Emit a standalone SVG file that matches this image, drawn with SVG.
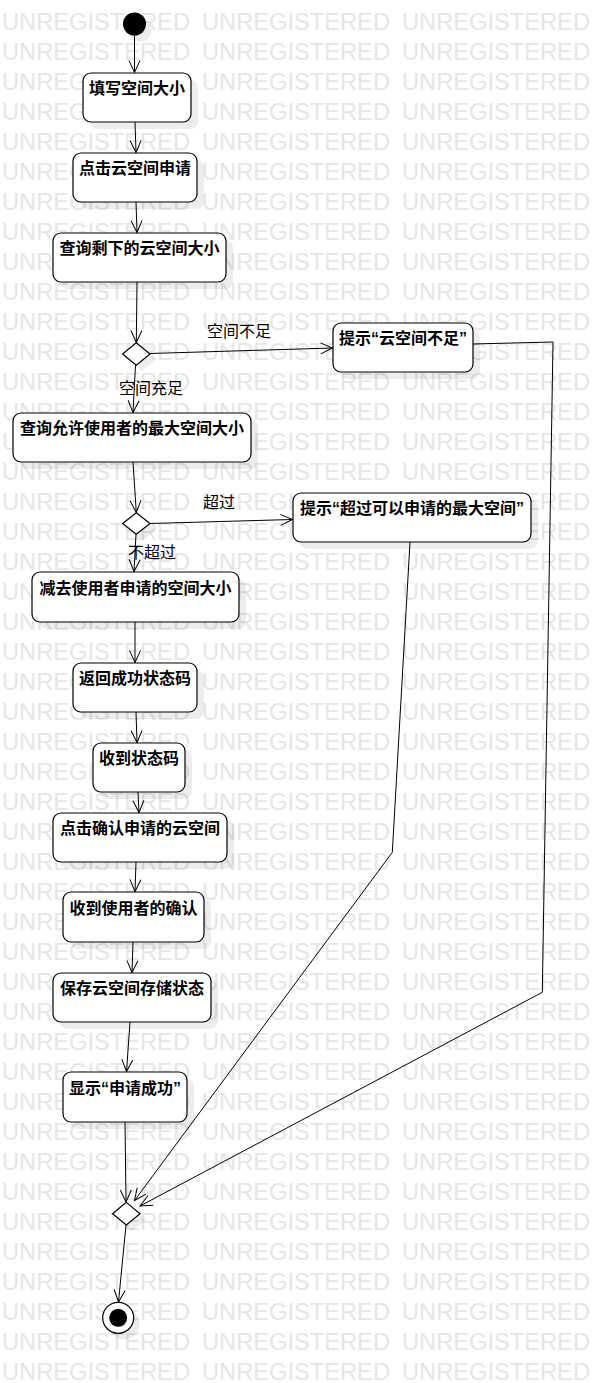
<svg xmlns="http://www.w3.org/2000/svg" xmlns:xlink="http://www.w3.org/1999/xlink" width="603" height="1383" viewBox="0 0 603 1383">
  <style>
    .wm { font-family: "Liberation Sans", Arial, sans-serif; font-size: 23px; fill: #e6e6e6; }
    .box { fill: #ffffff; stroke: #000000; stroke-width: 1.2; }
    .shadow { fill: #000000; fill-opacity: 0.07; }
    .dec { fill: #ffffff; stroke: #000000; stroke-width: 1.2; }
    .lbl { font-family: "Liberation Sans", "Noto Sans CJK SC", sans-serif; font-size: 16px; font-weight: bold; fill: #000000; text-anchor: middle; }
    .guard { font-family: "Liberation Sans", "Noto Sans CJK SC", sans-serif; font-size: 16px; fill: #000000; }
    .edge { fill: none; stroke: #000000; stroke-width: 1; }
  </style>
  <defs>
    <marker id="open" markerUnits="userSpaceOnUse" viewBox="-1 -7 14 14" refX="12" refY="0" markerWidth="14" markerHeight="14" orient="auto">
      <path d="M0,-5.5 L12,0 L0,5.5" fill="none" stroke="#000000" stroke-width="1"/>
    </marker>
    <g id="wmrow">
      <text class="wm" x="2" y="0" textLength="188" lengthAdjust="spacingAndGlyphs">UNREGISTERED</text>
      <text class="wm" x="202" y="0" textLength="188" lengthAdjust="spacingAndGlyphs">UNREGISTERED</text>
      <text class="wm" x="402" y="0" textLength="188" lengthAdjust="spacingAndGlyphs">UNREGISTERED</text>
    </g>
  </defs>

  <rect x="0" y="0" width="603" height="1383" fill="#ffffff"/>

  <!-- background watermark rows -->
  <g id="watermark">
    <use xlink:href="#wmrow" y="30"/><use xlink:href="#wmrow" y="60"/><use xlink:href="#wmrow" y="90"/>
    <use xlink:href="#wmrow" y="120"/><use xlink:href="#wmrow" y="150"/><use xlink:href="#wmrow" y="180"/>
    <use xlink:href="#wmrow" y="210"/><use xlink:href="#wmrow" y="240"/><use xlink:href="#wmrow" y="270"/>
    <use xlink:href="#wmrow" y="300"/><use xlink:href="#wmrow" y="330"/><use xlink:href="#wmrow" y="360"/>
    <use xlink:href="#wmrow" y="390"/><use xlink:href="#wmrow" y="420"/><use xlink:href="#wmrow" y="450"/>
    <use xlink:href="#wmrow" y="480"/><use xlink:href="#wmrow" y="510"/><use xlink:href="#wmrow" y="540"/>
    <use xlink:href="#wmrow" y="570"/><use xlink:href="#wmrow" y="600"/><use xlink:href="#wmrow" y="630"/>
    <use xlink:href="#wmrow" y="660"/><use xlink:href="#wmrow" y="690"/><use xlink:href="#wmrow" y="720"/>
    <use xlink:href="#wmrow" y="750"/><use xlink:href="#wmrow" y="780"/><use xlink:href="#wmrow" y="810"/>
    <use xlink:href="#wmrow" y="840"/><use xlink:href="#wmrow" y="870"/><use xlink:href="#wmrow" y="900"/>
    <use xlink:href="#wmrow" y="930"/><use xlink:href="#wmrow" y="960"/><use xlink:href="#wmrow" y="990"/>
    <use xlink:href="#wmrow" y="1020"/><use xlink:href="#wmrow" y="1050"/><use xlink:href="#wmrow" y="1080"/>
    <use xlink:href="#wmrow" y="1110"/><use xlink:href="#wmrow" y="1140"/><use xlink:href="#wmrow" y="1170"/>
    <use xlink:href="#wmrow" y="1200"/><use xlink:href="#wmrow" y="1230"/><use xlink:href="#wmrow" y="1260"/>
    <use xlink:href="#wmrow" y="1290"/><use xlink:href="#wmrow" y="1320"/><use xlink:href="#wmrow" y="1350"/>
    <use xlink:href="#wmrow" y="1380"/>
  </g>

  <!-- activity nodes -->
  <g id="initial">
    <circle class="shadow" cx="140" cy="30" r="11.5"/>
    <circle cx="134.5" cy="24" r="11.5" fill="#000000"/>
  </g>

  <g id="fill-size">
    <rect class="shadow" x="90" y="80" width="108" height="49" rx="8"/>
    <rect class="box" x="83" y="73" width="108" height="49" rx="8"/>
    <text class="lbl" x="137" y="94">填写空间大小</text>
  </g>

  <g id="click-apply">
    <rect class="shadow" x="80" y="160" width="124" height="49" rx="8"/>
    <rect class="box" x="73" y="153" width="124" height="49" rx="8"/>
    <text class="lbl" x="135" y="174">点击云空间申请</text>
  </g>

  <g id="query-remaining">
    <rect class="shadow" x="60" y="240" width="173" height="49" rx="8"/>
    <rect class="box" x="53" y="233" width="173" height="49" rx="8"/>
    <text class="lbl" x="139.5" y="254">查询剩下的云空间大小</text>
  </g>

  <g id="decision-space">
    <polygon class="shadow" points="142,349 156,360 142,371 128,360"/>
    <polygon class="dec" points="136.3,342.7 150,354 136.3,365.3 122.6,354"/>
  </g>

  <g id="hint-insufficient">
    <rect class="shadow" x="340" y="330" width="140" height="49" rx="8"/>
    <rect class="box" x="333" y="323" width="140" height="49" rx="8"/>
    <text class="lbl" x="403" y="344">提示“云空间不足”</text>
  </g>

  <g id="query-max">
    <rect class="shadow" x="20" y="420" width="238" height="49" rx="8"/>
    <rect class="box" x="13" y="413" width="238" height="49" rx="8"/>
    <text class="lbl" x="132" y="434">查询允许使用者的最大空间大小</text>
  </g>

  <g id="decision-max">
    <polygon class="shadow" points="142,519 156,530 142,541 128,530"/>
    <polygon class="dec" points="136.3,512.7 150,523.5 136.3,534.3 122.6,523.5"/>
  </g>

  <g id="hint-exceed">
    <rect class="shadow" x="300" y="500" width="238" height="49" rx="8"/>
    <rect class="box" x="293" y="493" width="238" height="49" rx="8"/>
    <text class="lbl" x="412" y="514">提示“超过可以申请的最大空间”</text>
  </g>

  <g id="subtract-size">
    <rect class="shadow" x="39" y="579" width="207" height="50" rx="8"/>
    <rect class="box" x="32" y="572" width="207" height="50" rx="8"/>
    <text class="lbl" x="135.5" y="594">减去使用者申请的空间大小</text>
  </g>

  <g id="return-code">
    <rect class="shadow" x="80" y="670" width="124" height="49" rx="8"/>
    <rect class="box" x="73" y="663" width="124" height="49" rx="8"/>
    <text class="lbl" x="135" y="684">返回成功状态码</text>
  </g>

  <g id="receive-code">
    <rect class="shadow" x="100" y="750" width="92" height="49" rx="8"/>
    <rect class="box" x="93" y="743" width="92" height="49" rx="8"/>
    <text class="lbl" x="139" y="764">收到状态码</text>
  </g>

  <g id="confirm-click">
    <rect class="shadow" x="60" y="820" width="174" height="49" rx="8"/>
    <rect class="box" x="53" y="813" width="174" height="49" rx="8"/>
    <text class="lbl" x="140" y="834">点击确认申请的云空间</text>
  </g>

  <g id="receive-confirm">
    <rect class="shadow" x="70" y="899" width="141" height="50" rx="8"/>
    <rect class="box" x="63" y="892" width="141" height="50" rx="8"/>
    <text class="lbl" x="133.5" y="914">收到使用者的确认</text>
  </g>

  <g id="save-state">
    <rect class="shadow" x="60" y="980" width="158" height="49" rx="8"/>
    <rect class="box" x="53" y="973" width="158" height="49" rx="8"/>
    <text class="lbl" x="132" y="994">保存云空间存储状态</text>
  </g>

  <g id="show-success">
    <rect class="shadow" x="70" y="1079" width="124" height="50" rx="8"/>
    <rect class="box" x="63" y="1072" width="124" height="50" rx="8"/>
    <text class="lbl" x="125" y="1094">显示“申请成功”</text>
  </g>

  <g id="merge">
    <polygon class="shadow" points="132,1209 146,1220 132,1231 118,1220"/>
    <polygon class="dec" points="126.3,1202.4 140,1213.7 126.3,1225 112.6,1213.7"/>
  </g>

  <g id="final">
    <circle class="shadow" cx="124" cy="1324" r="15.5"/>
    <circle cx="118.2" cy="1317.8" r="15.5" fill="#ffffff" stroke="#000000" stroke-width="1.2"/>
    <circle cx="118.2" cy="1317.8" r="9" fill="#000000"/>
  </g>

  <!-- control flows -->
  <g id="connectors">
    <line class="edge" x1="134.5" y1="35.5" x2="134.5" y2="72.5" marker-end="url(#open)"/>
    <line class="edge" x1="135" y1="122" x2="136" y2="152.5" marker-end="url(#open)"/>
    <line class="edge" x1="136" y1="202" x2="137" y2="232.5" marker-end="url(#open)"/>
    <line class="edge" x1="137" y1="282" x2="136.3" y2="342.5" marker-end="url(#open)"/>
    <line class="edge" x1="150" y1="353.5" x2="332.5" y2="348" marker-end="url(#open)"/>
    <line class="edge" x1="135.5" y1="365.3" x2="133" y2="412.5" marker-end="url(#open)"/>
    <line class="edge" x1="133" y1="462" x2="136.3" y2="512.5" marker-end="url(#open)"/>
    <line class="edge" x1="150" y1="523.5" x2="292.5" y2="519.5" marker-end="url(#open)"/>
    <line class="edge" x1="136" y1="534.3" x2="134" y2="571.5" marker-end="url(#open)"/>
    <line class="edge" x1="135" y1="622" x2="135" y2="662.5" marker-end="url(#open)"/>
    <line class="edge" x1="136" y1="712" x2="137" y2="742.5" marker-end="url(#open)"/>
    <line class="edge" x1="138" y1="792" x2="139" y2="812.5" marker-end="url(#open)"/>
    <line class="edge" x1="136" y1="862" x2="135" y2="891.5" marker-end="url(#open)"/>
    <line class="edge" x1="133" y1="942" x2="132" y2="972.5" marker-end="url(#open)"/>
    <line class="edge" x1="130" y1="1022" x2="126.5" y2="1071.5" marker-end="url(#open)"/>
    <line class="edge" x1="125" y1="1122" x2="126" y2="1202" marker-end="url(#open)"/>
    <polyline class="edge" points="473,344 553,342 542.3,992.3 140,1206" marker-end="url(#open)"/>
    <polyline class="edge" points="410,542 392.3,852.3 134.5,1200.5" marker-end="url(#open)"/>
    <line class="edge" x1="126" y1="1225" x2="118.5" y2="1302" marker-end="url(#open)"/>
  </g>

  <!-- guard labels -->
  <g id="guards">
    <text class="guard" x="207" y="337">空间不足</text>
    <text class="guard" x="119" y="394">空间充足</text>
    <text class="guard" x="203" y="508">超过</text>
    <text class="guard" x="128" y="558">不超过</text>
  </g>
</svg>
